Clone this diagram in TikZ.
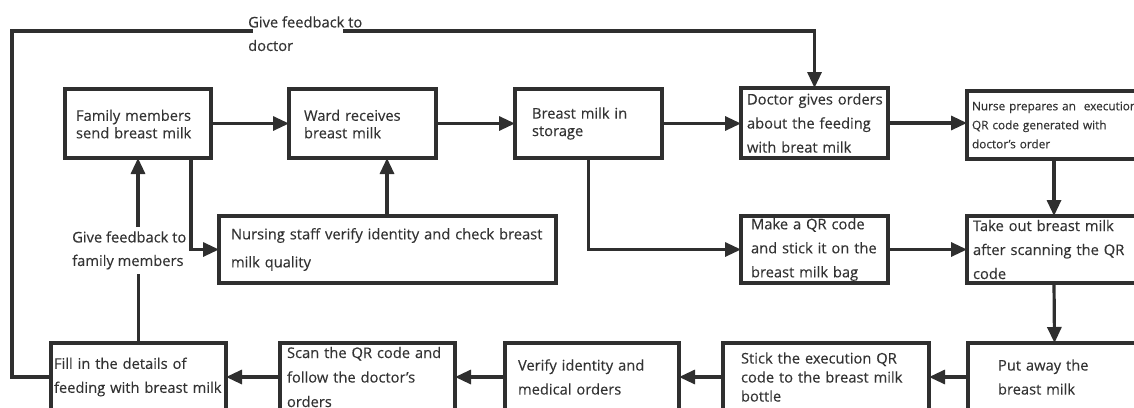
\documentclass[tikz,border=0pt]{standalone}
\usepackage{fontspec}
\setmainfont{Open Sans}[FakeBold=0.25]
\usetikzlibrary{arrows.meta}
\definecolor{linec}{HTML}{2F2F2F}
\definecolor{textc}{HTML}{333333}
\hyphenpenalty=10000
\exhyphenpenalty=10000
\begin{document}
\begin{tikzpicture}[x=1pt,y=-1pt,
  box/.style={draw=linec, line width=3.2pt, text=textc, align=left, anchor=north west,
    inner ysep=0pt, outer sep=0pt, font=\fontsize{14.7}{24}\selectfont},
  tight/.style={font=\fontsize{14.7}{17.5}\selectfont},
  small/.style={font=\fontsize{11.8}{19}\selectfont},
  arr/.style={draw=linec, line width=3.2pt, -{Triangle[length=16pt,width=14pt]}},
  ln/.style={draw=linec, line width=3.2pt},
  lab/.style={text=textc, align=left, anchor=north west, inner xsep=0pt, inner ysep=4pt,
    font=\fontsize{14.7}{23.5}\selectfont}]
\useasboundingbox (0,0) rectangle (1134,407);
\clip (0,0) rectangle (1134,407);
% top row
\node[box, tight, minimum width=146pt, minimum height=69pt, text width=124pt, inner xsep=11pt] (fam) at (65,89) {\strut Family~members\\send~breast~milk};
\node[box, tight, minimum width=147pt, minimum height=69pt, text width=117pt, inner xsep=15pt] (ward) at (289,89) {\strut Ward~receives\\breast~milk};
\node[box, tight, minimum width=147pt, minimum height=69pt, text width=113pt, inner xsep=17pt] (sto) at (515,89) {Breast~milk~in\\storage};
\node[box, minimum width=147pt, minimum height=70pt, text width=135pt, inner xsep=6pt] (doc) at (741,88) {Doctor~gives~orders\\about~the~feeding\\with~breat~milk};
\node[box, small, minimum width=174pt, minimum height=68pt, text width=164pt, inner xsep=5pt] (nur) at (967,91) {Nurse~prepares~an~~execution\\QR~code~generated~with\\doctor's~order};
% middle row
\node[box, font=\fontsize{14.7}{28}\selectfont, minimum width=337pt, minimum height=67pt, text width=313pt, inner xsep=12pt] (nss) at (219,216) {Nursing~staff~verify~identity~and~check~breast\\milk~quality};
\node[box, minimum width=147pt, minimum height=67pt, text width=127pt, inner xsep=10pt] (qr) at (741,216) {Make~a~QR~code\\and~stick~it~on~the\\breast~milk~bag};
\node[box, minimum width=174pt, minimum height=67pt, text width=162pt, inner xsep=6pt] (take) at (967,216) {Take~out~breast~milk\\after~scanning~the~QR\\code};
% bottom row
\node[box, minimum width=175pt, minimum height=68pt, text width=169pt, inner xsep=3pt] (fill) at (51,343) {Fill~in~the~details~of\\feeding~with~breast~milk};
\node[box, font=\fontsize{14.7}{24.5}\selectfont, minimum width=175pt, minimum height=68pt, text width=161pt, inner xsep=7pt] (scan) at (280,343) {Scan~the~QR~code~and\\follow~the~doctor's\\orders};
\node[box, minimum width=174pt, minimum height=68pt, text width=148pt, inner xsep=13pt] (ver) at (505,343) {Verify~identity~and\\medical~orders};
\node[box, font=\fontsize{14.7}{19}\selectfont, minimum width=206pt, minimum height=68pt, text width=170pt, inner xsep=18pt] (stick) at (723,343) {Stick~the~execution~QR\\code~to~the~breast~milk\\bottle};
\node[box, minimum width=173pt, minimum height=68pt, text width=113pt, inner xsep=30pt] (put) at (968,343) {Put~away~the\\breast~milk};
% labels
\node[lab] (fbd) at (248,12) {Give feedback to\\doctor};
\node[lab] (fbf) at (72,227) {Give feedback to\\family members};
% connectors
\draw[arr] (fam.east) -- (fam.east -| ward.west);
\draw[arr] (ward.east) -- (ward.east -| sto.west);
\draw[arr] (sto.east) -- (sto.east -| doc.west);
\draw[arr] (doc.east) -- (doc.east -| nur.west);
\draw[arr] (nur.south) -- (take.north);
\draw[arr] (take.south) -- (put.north);
\draw[arr] (put.west) -- (stick.east);
\draw[arr] (stick.west) -- (ver.east);
\draw[arr] (ver.west) -- (scan.east);
\draw[arr] (scan.west) -- (fill.east);
\draw[arr] (qr.east) -- (take.west);
\draw[arr] (sto.south) |- (qr.west);
\draw[arr] ([xshift=-20pt]fam.south east) |- (nss.west);
\coordinate (wx) at (387,0);
\draw[arr] (nss.north -| wx) -- (ward.south -| wx);
\draw[ln] (fill.north) -- (fill.north |- fbf.south);
\draw[arr] (fam.south |- fbf.north) -- (fam.south);
\coordinate (tl) at (12,31);
\coordinate (g1) at (253,31);
\coordinate (g2) at (343,31);
\draw[ln] (fill.west) -| (tl) -- (g1);
\draw[arr] (g2) -| (doc.north);
\end{tikzpicture}
\end{document}
